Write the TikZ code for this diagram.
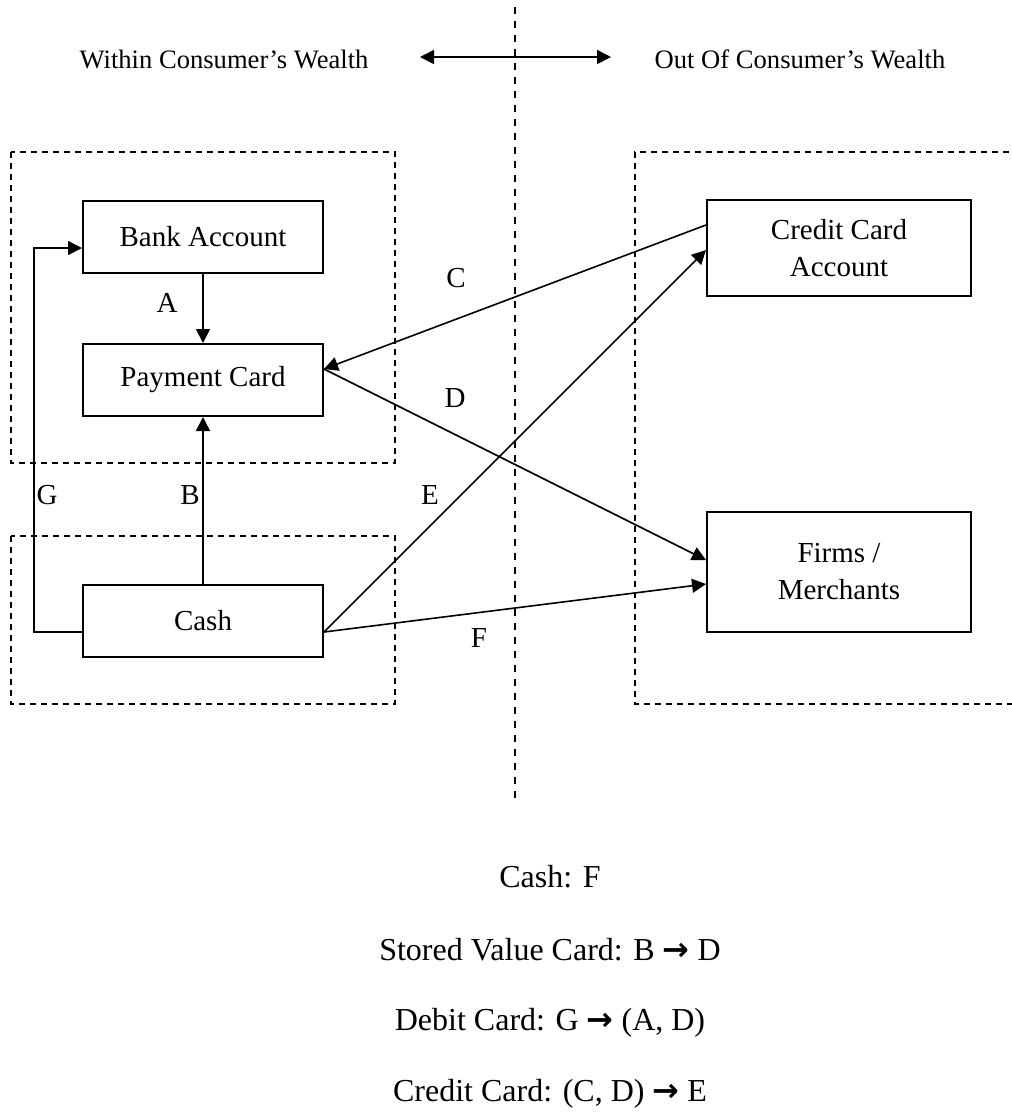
\documentclass[tikz,border=0pt]{standalone}
\usepackage{fontspec}
\setmainfont{Liberation Serif}
\newfontfamily\arrowfont{DejaVu Sans}
\usetikzlibrary{arrows.meta,positioning}

\newcommand{\boxfont}{\fontsize{14.5}{18.5}\selectfont}
\newcommand{\headfont}{\fontsize{13.3}{16}\selectfont}
\newcommand{\notefont}{\fontsize{16}{19}\selectfont}
\newcommand{\thento}{{\arrowfont\bfseries →}}

\begin{document}
\begin{tikzpicture}[x=0.5pt,y=-0.5pt,on grid,>={Triangle[length=7pt,width=7pt]},
    box/.style={draw,line width=1pt,minimum width=120pt,minimum height=36pt,align=center,font=\boxfont},
    region/.style={draw,line width=0.75pt,dash pattern=on 3pt off 2.5pt},
    divider/.style={line width=0.7pt,dash pattern=on 3.5pt off 3.5pt},
    flow/.style={line width=0.8pt},
    tag/.style={font=\boxfont}]
    \useasboundingbox (0,0) rectangle (1012,1116);
    % regions
    \draw[region] (11,152) rectangle (395,463);
    \draw[region] (11,536) rectangle (395,704);
    \draw[region] (1020,152) -| (635,704) -- (1020,704);
    % divider
    \coordinate (div_top) at (515,7);
    \coordinate (div_bot) at (515,798);
    \draw[divider] (div_top) -- (div_bot);
    % header
    \node[font=\headfont] (within) at (224,59) {Within Consumer’s Wealth};
    \node[font=\headfont] (outof) at (800,59) {Out Of Consumer’s Wealth};
    \coordinate (hd_l) at (420,57);
    \coordinate (hd_r) at (611,57);
    \draw[<->,flow] (hd_l) -- (hd_r);
    % boxes
    \node[box] (bank) at (203,236.5) {Bank Account};
    \node[box] (pay) [below=71.75pt of bank] {Payment Card};
    \node[box] (cash) [below=120.25pt of pay] {Cash};
    \node[box,minimum width=132pt,minimum height=48pt] (cca) at (839,248) {Credit Card\\Account};
    \node[box,minimum width=132pt,minimum height=60pt] (firms) [below=162pt of cca] {Firms /\\Merchants};
    \path[->,flow]
    (bank) edge (pay)
    (cash) edge (pay)
    ([yshift=11.5pt]cca.west) edge ([yshift=5.5pt]pay.east)
    ([yshift=5.5pt]pay.east) edge ([yshift=6pt]firms.west)
    ([yshift=-5.75pt]cash.east) edge ([yshift=-1pt]cca.west)
    ([yshift=-5.75pt]cash.east) edge ([yshift=-6pt]firms.west)
    ; %end path
    \draw[->,flow] ([yshift=-5.75pt]cash.west) -- ++(-24pt,0) |- ([yshift=-5.75pt]bank.west);
    % labels
    \node[tag] (lbl_a) at (167,303) {A};
    \node[tag] (lbl_b) at (190,495) {B};
    \node[tag] (lbl_c) at (456,278) {C};
    \node[tag] (lbl_d) at (455,398) {D};
    \node[tag] (lbl_e) at (430,495) {E};
    \node[tag] (lbl_f) at (479,638) {F};
    \node[tag] (lbl_g) at (47,495) {G};
    % notes
    \node[font=\notefont] (n_cash) at (550,877) {Cash: F};
    \node[font=\notefont] (n_stored) at (550,950) {Stored Value Card: B \thento{} D};
    \node[font=\notefont] (n_debit) at (550,1023) {Debit Card: G \thento{} (A, D)};
    \node[font=\notefont] (n_credit) at (550,1094) {Credit Card: (C, D) \thento{} E};
\end{tikzpicture}
\end{document}
